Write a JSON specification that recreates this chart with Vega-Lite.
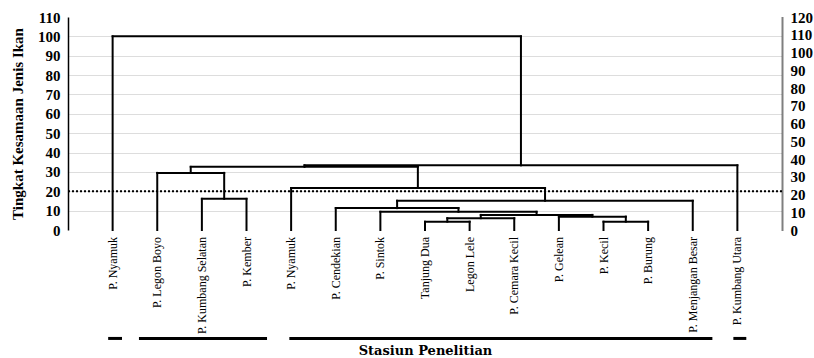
{
  "$schema": "https://vega.github.io/schema/vega-lite/v6.json",
  "width": 714,
  "height": 213,
  "autosize": {"type": "none"},
  "padding": {"left": 68, "top": 17, "right": 32, "bottom": 128},
  "background": "white",
  "config": {"view": {"stroke": null}, "font": "Liberation Serif"},
  "datasets": {
    "segments": [
      {"x": 1, "x2": 1, "y": 0, "y2": 100},
      {"x": 2, "x2": 2, "y": 0, "y2": 29.5},
      {"x": 3, "x2": 3, "y": 0, "y2": 16.1},
      {"x": 4, "x2": 4, "y": 0, "y2": 16.1},
      {"x": 5, "x2": 5, "y": 0, "y2": 21.7},
      {"x": 6, "x2": 6, "y": 0, "y2": 11.3},
      {"x": 7, "x2": 7, "y": 0, "y2": 9.4},
      {"x": 8, "x2": 8, "y": 0, "y2": 4.3},
      {"x": 9, "x2": 9, "y": 0, "y2": 4.3},
      {"x": 10, "x2": 10, "y": 0, "y2": 6.1},
      {"x": 11, "x2": 11, "y": 0, "y2": 6.9},
      {"x": 12, "x2": 12, "y": 0, "y2": 4.3},
      {"x": 13, "x2": 13, "y": 0, "y2": 4.3},
      {"x": 14, "x2": 14, "y": 0, "y2": 15.1},
      {"x": 15, "x2": 15, "y": 0, "y2": 33.4},
      {"x": 3, "x2": 4, "y": 16.1, "y2": 16.1},
      {"x": 2, "x2": 3.5, "y": 29.5, "y2": 29.5},
      {"x": 8, "x2": 9, "y": 4.3, "y2": 4.3},
      {"x": 8.5, "x2": 10, "y": 6.1, "y2": 6.1},
      {"x": 12, "x2": 13, "y": 4.3, "y2": 4.3},
      {"x": 11, "x2": 12.5, "y": 6.9, "y2": 6.9},
      {"x": 9.25, "x2": 11.75, "y": 7.8, "y2": 7.8},
      {"x": 7, "x2": 10.5, "y": 9.4, "y2": 9.4},
      {"x": 6, "x2": 8.75, "y": 11.3, "y2": 11.3},
      {"x": 7.375, "x2": 14, "y": 15.1, "y2": 15.1},
      {"x": 5, "x2": 10.69, "y": 21.7, "y2": 21.7},
      {"x": 2.75, "x2": 7.84, "y": 32.6, "y2": 32.6},
      {"x": 5.3, "x2": 15, "y": 33.4, "y2": 33.4},
      {"x": 1, "x2": 10.15, "y": 100, "y2": 100},
      {"x": 3.5, "x2": 3.5, "y": 16.1, "y2": 29.5},
      {"x": 8.5, "x2": 8.5, "y": 4.3, "y2": 6.1},
      {"x": 9.25, "x2": 9.25, "y": 6.1, "y2": 7.8},
      {"x": 12.5, "x2": 12.5, "y": 4.3, "y2": 6.9},
      {"x": 11.75, "x2": 11.75, "y": 6.9, "y2": 7.8},
      {"x": 10.5, "x2": 10.5, "y": 7.8, "y2": 9.4},
      {"x": 8.75, "x2": 8.75, "y": 9.4, "y2": 11.3},
      {"x": 7.375, "x2": 7.375, "y": 11.3, "y2": 15.1},
      {"x": 10.69, "x2": 10.69, "y": 15.1, "y2": 21.7},
      {"x": 2.75, "x2": 2.75, "y": 29.5, "y2": 32.6},
      {"x": 7.84, "x2": 7.84, "y": 21.7, "y2": 32.6},
      {"x": 5.3, "x2": 5.3, "y": 32.6, "y2": 33.4},
      {"x": 10.15, "x2": 10.15, "y": 33.4, "y2": 100}
    ],
    "leaves": [
      {"pos": 1, "name": "P. Nyamuk"},
      {"pos": 2, "name": "P. Legon Boyo"},
      {"pos": 3, "name": "P. Kumbang Selatan"},
      {"pos": 4, "name": "P. Kember"},
      {"pos": 5, "name": "P. Nyamuk"},
      {"pos": 6, "name": "P. Cendekian"},
      {"pos": 7, "name": "P. Sintok"},
      {"pos": 8, "name": "Tanjung Dua"},
      {"pos": 9, "name": "Legon Lele"},
      {"pos": 10, "name": "P. Cemara Kecil"},
      {"pos": 11, "name": "P. Gelean"},
      {"pos": 12, "name": "P. Kecil"},
      {"pos": 13, "name": "P. Burung"},
      {"pos": 14, "name": "P. Menjangan Besar"},
      {"pos": 15, "name": "P. Kumbang Utara"}
    ],
    "groups": [
      {"g0": 0.9, "g1": 1.21},
      {"g0": 1.59, "g1": 4.46},
      {"g0": 4.96, "g1": 14.44},
      {"g0": 14.91, "g1": 15.2}
    ]
  },
  "layer": [
    {
      "data": {"name": "segments"},
      "mark": {"type": "rule", "color": "black", "strokeWidth": 2, "strokeCap": "square"},
      "encoding": {
        "x": {
          "field": "x", "type": "quantitative",
          "scale": {"domain": [0, 16], "nice": false, "zero": false},
          "axis": {
            "orient": "bottom", "title": "Stasiun Penelitian",
            "labels": false, "ticks": false, "domain": false, "grid": false,
            "titleFont": "DejaVu Serif", "titleFontWeight": "bold", "titleFontSize": 13,
            "titleColor": "black", "titlePadding": 114
          }
        },
        "x2": {"field": "x2"},
        "y": {
          "field": "y", "type": "quantitative",
          "scale": {"domain": [0, 110], "nice": false, "zero": false},
          "axis": {
            "orient": "left",
            "title": "Tingkat Kesamaan Jenis Ikan",
            "values": [0, 10, 20, 30, 40, 50, 60, 70, 80, 90, 100, 110],
            "titleFont": "Liberation Serif", "titleFontSize": 15, "titleFontWeight": "bold",
            "titleColor": "black", "titlePadding": 12,
            "labelFont": "Liberation Serif", "labelFontSize": 15, "labelFontWeight": "bold",
            "labelColor": "black", "labelPadding": 8, "ticks": false,
            "domainColor": "black", "domainWidth": 1.5,
            "grid": true, "gridColor": "#bbbbbb", "gridDash": [1, 1],
            "gridOpacity": {"condition": {"test": "datum.value === 0 || datum.value === 110", "value": 0}, "value": 1}
          }
        },
        "y2": {"field": "y2"}
      }
    },
    {
      "data": {"values": [{"ref": 20}]},
      "mark": {"type": "rule", "color": "black", "strokeWidth": 2, "strokeDash": [2, 2]},
      "encoding": {
        "y": {"field": "ref", "type": "quantitative", "scale": {"domain": [0, 110], "nice": false, "zero": false}, "axis": null}
      }
    },
    {
      "data": {"name": "groups"},
      "mark": {"type": "rule", "color": "black", "strokeWidth": 3},
      "encoding": {
        "x": {"field": "g0", "type": "quantitative", "scale": {"domain": [0, 16], "nice": false, "zero": false}, "axis": null},
        "x2": {"field": "g1"},
        "y": {"datum": -56, "type": "quantitative", "scale": {"domain": [0, 110], "nice": false, "zero": false}, "axis": null}
      }
    },
    {
      "data": {"name": "leaves"},
      "mark": {"type": "text", "angle": 270, "align": "right", "baseline": "middle", "fontSize": 12, "font": "Liberation Serif", "color": "black"},
      "encoding": {
        "x": {"field": "pos", "type": "quantitative", "scale": {"domain": [0, 16], "nice": false, "zero": false}, "axis": null},
        "y": {"datum": -3.6, "type": "quantitative", "scale": {"domain": [0, 110], "nice": false, "zero": false}, "axis": null},
        "text": {"field": "name"}
      }
    },
    {
      "data": {"name": "segments"},
      "mark": {"type": "rule", "strokeOpacity": 0},
      "encoding": {
        "y": {
          "field": "y2", "type": "quantitative",
          "scale": {"domain": [0, 120], "nice": false, "zero": false},
          "axis": {
            "orient": "right", "title": null,
            "values": [0, 10, 20, 30, 40, 50, 60, 70, 80, 90, 100, 110, 120],
            "labelFont": "Liberation Serif", "labelFontSize": 15, "labelFontWeight": "bold",
            "labelColor": "black", "labelPadding": 8, "ticks": false, "grid": false,
            "domainColor": "black", "domainWidth": 2, "domainDash": [1, 1]
          }
        }
      }
    }
  ],
  "resolve": {"scale": {"x": "independent", "y": "independent"}}
}
